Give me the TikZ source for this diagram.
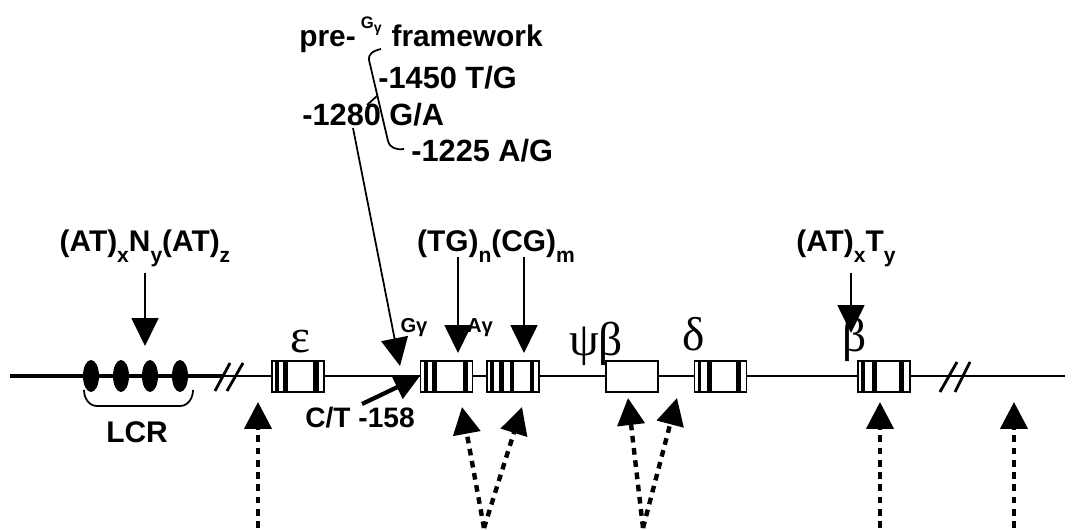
\documentclass[tikz,border=0pt]{standalone}
\usepackage{fontspec}
\setmainfont{Liberation Sans}
\newfontfamily\greekserif{Liberation Serif}
\usetikzlibrary{positioning, calc, arrows.meta, shapes.geometric}

\newcommand{\lowsub}[1]{\raisebox{-6pt}{\fontsize{12}{12}\selectfont #1}}

\begin{document}
\begin{tikzpicture}[
        x=0.02cm, y=-0.02cm,
        lbl/.style={font=\fontsize{17}{20}\selectfont\bfseries, inner sep=0pt},
        snp/.style={font=\fontsize{17.5}{20}\selectfont\bfseries, inner sep=0pt, anchor=base west},
        glabel/.style={font=\fontsize{27}{30}\selectfont\greekserif, inner sep=0pt},
        glabelsm/.style={font=\fontsize{11.5}{13}\selectfont\bfseries, inner sep=0pt},
        gene/.style={rectangle, draw, fill=white, line width=1pt,
                     minimum width=1.04cm, minimum height=0.62cm, inner sep=0pt},
        lcrdot/.style={ellipse, fill=black, minimum width=0.32cm,
                       minimum height=0.64cm, inner sep=0pt},
        chrom/.style={line width=1.5pt},
        brk/.style={line width=1.6pt},
        bracket/.style={line width=1pt},
        arrTop/.style={-{Triangle[length=0.56cm, width=0.54cm]}, line width=1pt},
        arrCT/.style={-{Triangle[length=0.5cm, width=0.5cm]}, line width=2.4pt},
        arrSNP/.style={-{Triangle[length=0.54cm, width=0.54cm]}, line width=2.5pt,
                       dash pattern=on 3.8pt off 3.2pt},
    ]
    \useasboundingbox (0,0) rectangle (1073,530);

    % ---- Chromosome line ----
    \coordinate (chrL) at (10,376);
    \coordinate (chrB) at (222,376);
    \coordinate (chrR) at (1065,376);
    \draw[chrom] (chrL) -- (chrR);
    \draw[line width=2.2pt] (chrL) -- (chrB);

    % ---- LCR hypersensitive sites ----
    \foreach \i/\x in {1/91, 2/121, 3/150, 4/180} {
        \node[lcrdot] (HS\i) at (\x,376) {};
    }
    \draw[bracket] (84,390) to[out=-90, in=180] (97,406) -- (180,406)
        to[out=0, in=-90] (193,390);
    \node[lbl] (LCR) at (137,432) {LCR};

    % ---- Breaks ----
    \draw[brk] (215,391) -- (230,363) (227,391) -- (243,363);
    \draw[brk] (940,392) -- (957,362) (955,392) -- (970,362);

    % ---- Genes ----
    \foreach \n/\x in {eps/298, Gg/446.5, Ag/513, psib/632, del/720.5, bet/884} {
        \node[gene] (\n) at (\x,376.5) {};
    }
    \foreach \g/\bars in {eps/{4/8,12/17,42/48}, Gg/{4/8,12/17,43/48},
                          Ag/{4/8,13/18,24/28,44/48}, del/{4/7.5,13.5/18,42/47},
                          bet/{4/8,15/20,42/47}} {
        \foreach \a/\b in \bars {
            \fill ($(\g.north west)+(\a,0)$) rectangle ($(\g.south west)+(\b,0)$);
        }
    }

    % ---- Gene names ----
    \node[glabel] (epsL) at (300,342) {ε};
    \node[glabelsm] (GgL) at (414,328) {Gγ};
    \node[glabelsm] (AgL) at (480,328) {Aγ};
    \node[glabel] (psibL) at (596,344) {ψβ};
    \node[glabel] (delL) at (694,334) {δ};
    \node[glabel] (betL) at (855,340) {β};

    % ---- Repeat polymorphisms ----
    \node[lbl, anchor=base] (ATN) at (145,252) {(AT)\lowsub{x}N\lowsub{y}(AT)\lowsub{z}};
    \node[lbl, anchor=base] (TGCG) at (496,252) {(TG)\lowsub{n}(CG)\lowsub{m}};
    \node[lbl, anchor=base] (ATT) at (846,252) {(AT)\lowsub{x}T\lowsub{y}};

    \coordinate (ATNs) at (145,273);  \coordinate (ATNt) at (145,346);
    \coordinate (TGs)  at (458,257);  \coordinate (TGt)  at (458,353);
    \coordinate (CGs)  at (524,257);  \coordinate (CGt)  at (524,353);
    \coordinate (ATTs) at (851,273);  \coordinate (ATTt) at (851,333);
    \draw[arrTop] (ATNs) -- (ATNt);
    \draw[arrTop] (TGs) -- (TGt);
    \draw[arrTop] (CGs) -- (CGt);
    \draw[arrTop] (ATTs) -- (ATTt);

    % ---- pre-Ggamma framework ----
    \node[snp, font=\fontsize{17}{20}\selectfont\bfseries] (FW) at (299,47)
        {pre-\hspace{0.1cm}\raisebox{10.5pt}{\fontsize{9.5}{10}\selectfont
        G\raisebox{-2.5pt}{\fontsize{8}{9}\selectfont γ}}\hspace{0.2cm}framework};
    \node[snp] (S1450) at (378,89) {-1450 T/G};
    \node[snp] (S1280) at (302,126) {-1280 G/A};
    \node[snp] (S1225) at (411,162) {-1225 A/G};
    \draw[bracket] (381,49) .. controls (372,51) and (368,55) .. (369,60)
        -- (388,141) .. controls (390,148) and (396,150) .. (404,149);
    \draw[bracket] (377,96) -- (367,105);
    \coordinate (FWs) at (353,128);
    \coordinate (FWt) at (400,366);
    \draw[arrTop] (FWs) -- (FWt);

    % ---- C/T -158 ----
    \node[snp, font=\fontsize{16}{19}\selectfont\bfseries] (CT) at (305,428) {C/T -158};
    \coordinate (CTs) at (362,404);
    \draw[arrCT] (CTs) -- (Gg.west);

    % ---- Dashed arrows from below ----
    \coordinate (D1) at (258,528);
    \coordinate (D2) at (484,528);
    \coordinate (D3) at (643,528);
    \coordinate (D4) at (880,528);
    \coordinate (D5) at (1014,528);
    \coordinate (T1) at (258,402);
    \coordinate (T2a) at (462,407);
    \coordinate (T2b) at (522,407);
    \coordinate (T3a) at (628,398);
    \coordinate (T3b) at (677,398);
    \coordinate (T4) at (880,402);
    \coordinate (T5) at (1014,402);
    \draw[arrSNP] (D1) -- (T1);
    \draw[arrSNP] (D2) -- (T2a);
    \draw[arrSNP] (D2) -- (T2b);
    \draw[arrSNP] (D3) -- (T3a);
    \draw[arrSNP] (D3) -- (T3b);
    \draw[arrSNP] (D4) -- (T4);
    \draw[arrSNP] (D5) -- (T5);
\end{tikzpicture}
\end{document}
